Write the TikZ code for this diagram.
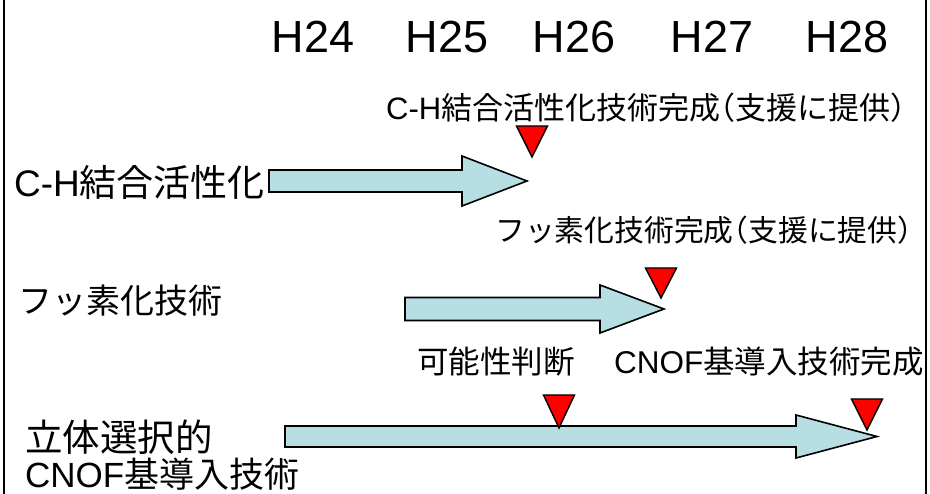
\documentclass[tikz,border=0pt]{standalone}
\usepackage{fontspec}
\setmainfont{Liberation Sans}
\newfontfamily\jp{Noto Sans CJK JP}
\newfontfamily\jph[RawFeature=+halt]{Noto Sans CJK JP}
\definecolor{arrowfill}{HTML}{B7DEE3}
\definecolor{mkred}{HTML}{FF0000}
\newcommand{\blockarrow}[6]{% x0, xbase, xtip, yc, half shaft, half head
  \draw[barrow] (#1,#4-#5) -- (#2,#4-#5) -- (#2,#4-#6) -- (#3,#4) -- (#2,#4+#6) -- (#2,#4+#5) -- (#1,#4+#5) -- cycle;}
\newcommand{\marker}[3]{% x tip, y top, y tip
  \draw[mk] (#1-15.5,#2) -- (#1+15.5,#2) -- (#1,#3) -- cycle;}
\begin{document}
\begin{tikzpicture}[x=1pt,y=-1pt,
  yearlbl/.style={font=\fontsize{45}{45}\selectfont, inner sep=0pt, anchor=center},
  mslbl/.style={font=\fontsize{29.8}{29.8}\selectfont, inner sep=0pt, anchor=west},
  mslbltwo/.style={font=\fontsize{31.5}{31.5}\selectfont, inner sep=0pt, anchor=west},
  rowlbl/.style={font=\fontsize{37}{37}\selectfont, inner sep=0pt, anchor=west},
  barrow/.style={draw=black, line width=1.6pt, fill=arrowfill, line join=miter},
  mk/.style={draw=black, line width=1.4pt, fill=mkred, line join=miter},
  frame/.style={draw=black, line width=1.6pt}]
\useasboundingbox (0,0) rectangle (930,494);
% frame sides
\coordinate (lt) at (4,0); \coordinate (lb) at (4,494);
\coordinate (rt) at (926,0); \coordinate (rb) at (926,494);
\draw[frame] (lt) -- (lb);
\draw[frame] (rt) -- (rb);
% years
\node[yearlbl] (h24) at (313,37) {H24};
\node[yearlbl] (h25) at (447,37) {H25};
\node[yearlbl] (h26) at (574,37) {H26};
\node[yearlbl] (h27) at (712,37) {H27};
\node[yearlbl] (h28) at (847,37) {H28};
% milestone labels
\node[mslbl, font=\fontsize{31}{31}\selectfont] (m1) at (386,108) {C-H{\jph 結合活性化技術完成（支援に提供）}};
\node[mslbl] (m2) at (495,230) {\jph フッ素化技術完成（支援に提供）};
\node[mslbltwo] (m3) at (417,362) {\jp 可能性判断};
\node[mslbltwo] (m4) at (614,362) {CNOF{\jp 基導入技術完成}};
% row labels
\node[rowlbl] (r1) at (14,182) {C-H{\jp 結合活性化}};
\node[rowlbl, font=\fontsize{34}{34}\selectfont] (r2) at (18,301) {\jp フッ素化技術};
\node[rowlbl, font=\fontsize{37.5}{37.5}\selectfont] (r3) at (25,437) {\jp 立体選択的};
\node[rowlbl, font=\fontsize{35}{35}\selectfont] (r4) at (25,474) {CNOF{\jp 基導入技術}};
% arrows
\blockarrow{269}{462}{527}{181}{11}{25}
\blockarrow{405}{600}{664}{309}{11.5}{24}
\blockarrow{285}{796}{877}{436.5}{10.5}{21.5}
% markers
\marker{532}{126}{157}
\marker{661}{268}{298}
\marker{559}{395}{428}
\marker{867}{399}{430}
\end{tikzpicture}
\end{document}
